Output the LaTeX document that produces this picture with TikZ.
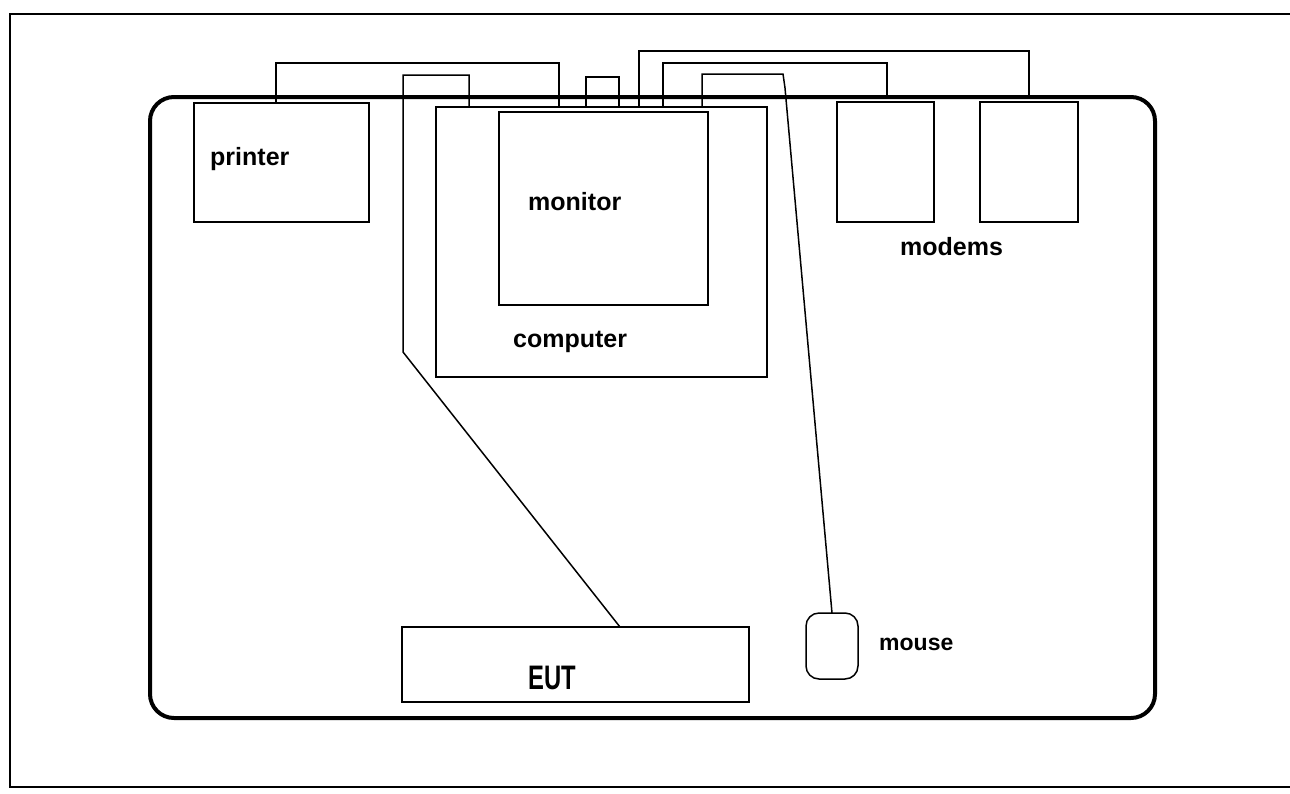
\documentclass[tikz,border=0pt]{standalone}
\usepackage{fontspec}
\setmainfont{Liberation Sans}
\begin{document}
\begin{tikzpicture}[x=1pt,y=-1pt,
  box/.style={draw=black,line width=1.5pt,inner sep=0pt,outer sep=0pt,fill=none},
  tablebox/.style={draw=black,line width=4pt,rounded corners=24pt,inner sep=0pt,outer sep=0pt},
  cable/.style={draw=black,line width=1.5pt},
  lbl/.style={anchor=base west,inner sep=0pt,font=\fontsize{25}{30}\selectfont\bfseries},
  frame/.style={draw=black,line width=1.5pt}]
\fill[white] (0,0) rectangle (1290,793);
\useasboundingbox (0,0) rectangle (1290,793);
% outer frame (open to the right)
\draw[frame] (1290,14) -- (10,14) -- (10,787) -- (1290,787);
% table
\node[tablebox,minimum width=1005pt,minimum height=621pt] (table) at (652.5,407.5) {};
% devices
\node[box,minimum width=175pt,minimum height=119pt] (printer) at (281.5,162.5) {};
\node[box,minimum width=331pt,minimum height=270pt] (computer) at (601.5,242) {};
\node[box,minimum width=209pt,minimum height=193pt] (monitor) at (603.5,208.5) {};
\node[box,minimum width=97pt,minimum height=120pt] (modemA) at (885.5,162) {};
\node[box,minimum width=98pt,minimum height=120pt] (modemB) at (1029,162) {};
\node[box,minimum width=347pt,minimum height=75pt] (eut) at (575.5,664.5) {};
\node[box,rounded corners=13pt,minimum width=52pt,minimum height=66pt] (mouse) at (832,646) {};
% labels
\node[lbl] (lprinter) at (210,165) {printer};
\node[lbl] (lmonitor) at (528,210) {monitor};
\node[lbl] (lcomputer) at (513,347) {computer};
\node[lbl] (lmodems) at (900,255) {modems};
\node[lbl,font=\fontsize{34}{40}\selectfont\bfseries,xscale=0.7,transform shape] (leut) at (528,689) {EUT};
\node[lbl,font=\fontsize{23}{28}\selectfont\bfseries] (lmouse) at (879,650) {mouse};
% cables
\draw[cable] (printer.north -| 276,0) |- (559,63) -- (computer.north -| 559,0);
\draw[cable] (computer.north -| 469,0) |- (403,75) -- (403,352) -- (eut.north -| 620,0);
\draw[cable] (computer.north -| 586,0) |- (619,77) -- (computer.north -| 619,0);
\draw[cable] (computer.north -| 639,0) |- (1029,51) -- (table.north -| 1029,0);
\draw[cable] (computer.north -| 663,0) |- (887,63) -- (table.north -| 887,0);
\draw[cable] (computer.north -| 702,0) |- (783,74) -- (785,88) -- (mouse.north);
\end{tikzpicture}
\end{document}
